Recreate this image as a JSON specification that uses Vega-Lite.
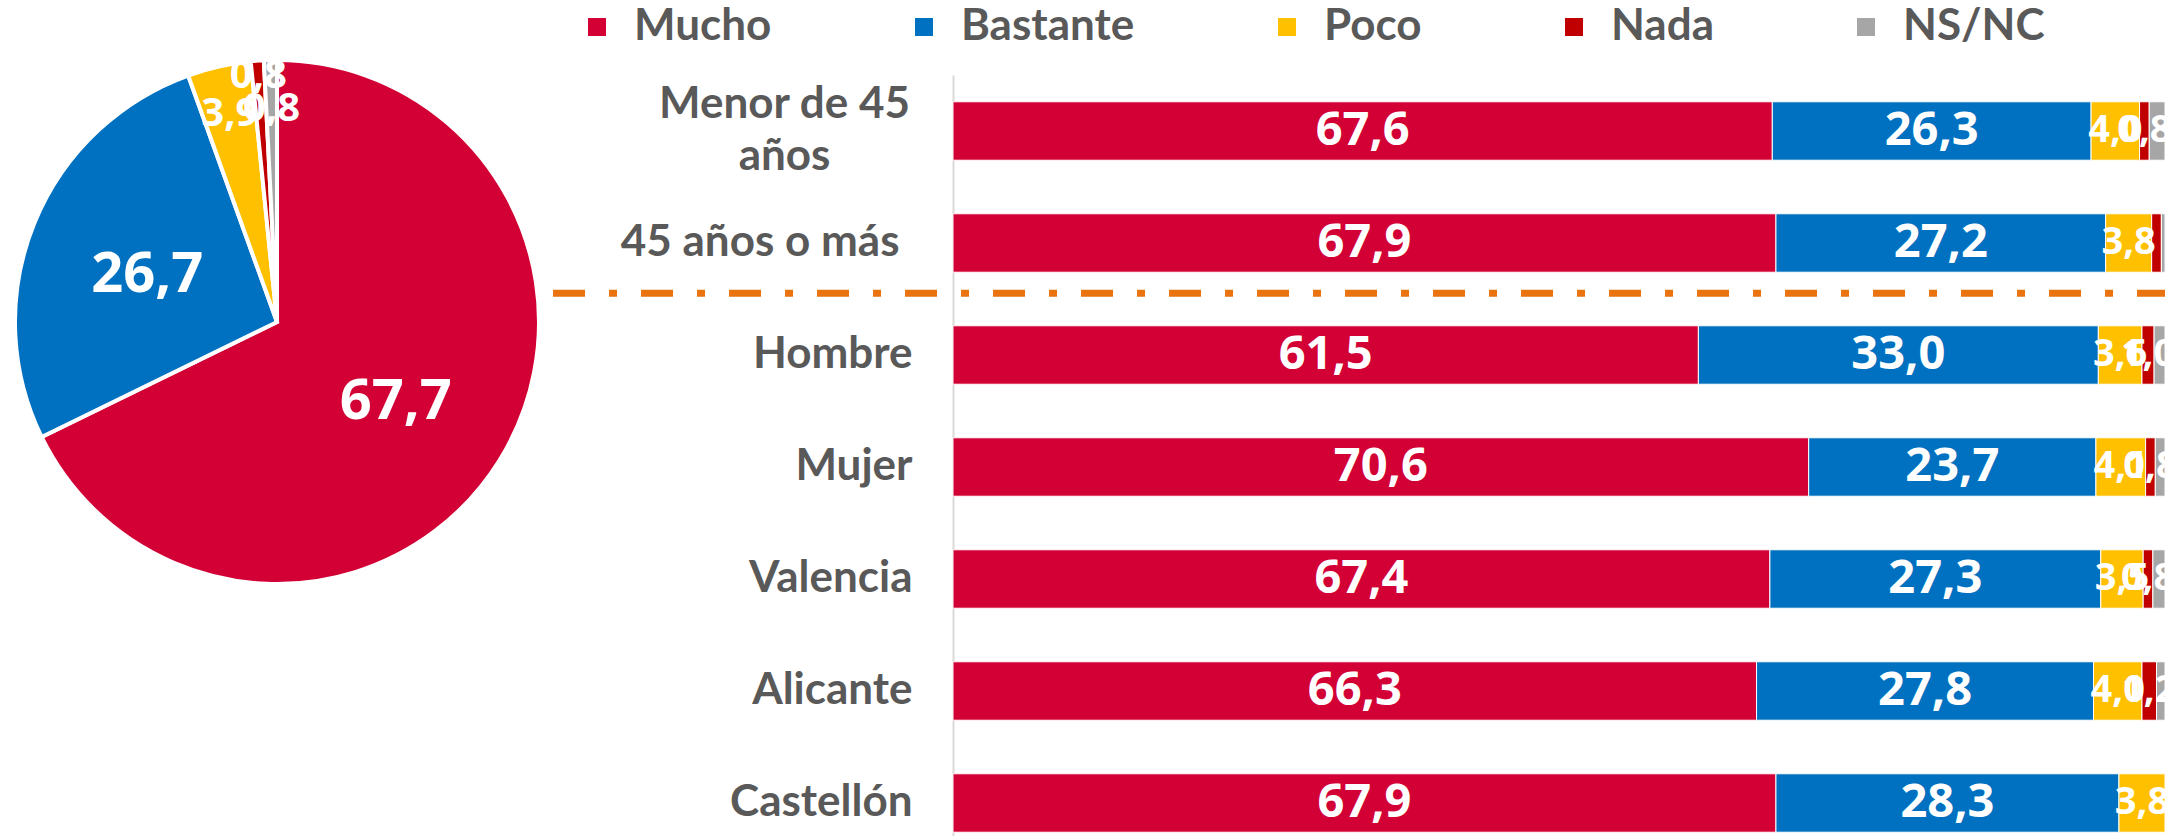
{
  "$schema": "https://vega.github.io/schema/vega-lite/v6.json",
  "padding": {"left": 5, "top": 5, "right": 16, "bottom": 5},
  "background": "white",
  "bounds": "flush",
  "spacing": 404,
  "config": {
    "view": {"stroke": null},
    "locale": {"number": {"decimal": ",", "thousands": ".", "grouping": [3], "currency": ["", " €"]}}
  },
  "resolve": {"scale": {"color": "independent"}, "legend": {"color": "independent"}},
  "hconcat": [
    {
      "width": 544,
      "height": 494,
      "data": {"values": [
        {"resp": "Mucho", "k": 1, "v": 67.7},
        {"resp": "Bastante", "k": 2, "v": 26.7},
        {"resp": "Poco", "k": 3, "v": 3.9},
        {"resp": "Nada", "k": 4, "v": 0.8},
        {"resp": "NS/NC", "k": 5, "v": 0.8}
      ]},
      "encoding": {
        "theta": {"field": "v", "type": "quantitative", "stack": true},
        "order": {"field": "k", "type": "quantitative"}
      },
      "layer": [
        {
          "mark": {"type": "arc", "radius": 262, "stroke": "white", "strokeWidth": 4},
          "encoding": {
            "color": {"field": "resp", "type": "nominal",
              "scale": {"domain": ["Mucho", "Bastante", "Poco", "Nada", "NS/NC"], "range": ["#D20034", "#0070C0", "#FFC000", "#C00000", "#A6A6A6"]},
              "legend": null}
          }
        },
        {
          "mark": {"type": "text", "radius": 140, "dy": 6, "font": "Open Sans", "fontWeight": "bold", "fontSize": 56, "fill": "white"},
          "encoding": {
            "detail": {"field": "resp"},
            "text": {"field": "v", "type": "quantitative", "format": ".1f"},
            "opacity": {"condition": {"test": "datum.v >= 5", "value": 1}, "value": 0}
          }
        },
        {
          "mark": {"type": "text", "radius": 213, "font": "Open Sans", "fontWeight": "bold", "fontSize": 40, "fill": "white"},
          "encoding": {
            "detail": {"field": "resp"},
            "text": {"field": "v", "type": "quantitative", "format": ".1f"},
            "opacity": {"condition": {"test": "datum.resp === 'Poco' || datum.resp === 'NS/NC'", "value": 1}, "value": 0}
          }
        },
        {
          "mark": {"type": "text", "radius": 247, "font": "Open Sans", "fontWeight": "bold", "fontSize": 40, "fill": "white"},
          "encoding": {
            "detail": {"field": "resp"},
            "text": {"field": "v", "type": "quantitative", "format": ".1f"},
            "opacity": {"condition": {"test": "datum.resp === 'Nada'", "value": 1}, "value": 0}
          }
        }
      ]
    },
    {
      "width": 1212,
      "height": 784,
      "data": {"values": [
        {"cat": "Menor de 45 años", "resp": "Mucho", "k": 1, "v": 67.6},
        {"cat": "Menor de 45 años", "resp": "Bastante", "k": 2, "v": 26.3},
        {"cat": "Menor de 45 años", "resp": "Poco", "k": 3, "v": 4.0},
        {"cat": "Menor de 45 años", "resp": "Nada", "k": 4, "v": 0.8},
        {"cat": "Menor de 45 años", "resp": "NS/NC", "k": 5, "v": 1.3},
        {"cat": "45 años o más", "resp": "Mucho", "k": 1, "v": 67.9},
        {"cat": "45 años o más", "resp": "Bastante", "k": 2, "v": 27.2},
        {"cat": "45 años o más", "resp": "Poco", "k": 3, "v": 3.8},
        {"cat": "45 años o más", "resp": "Nada", "k": 4, "v": 0.8},
        {"cat": "45 años o más", "resp": "NS/NC", "k": 5, "v": 0.3},
        {"cat": "Hombre", "resp": "Mucho", "k": 1, "v": 61.5},
        {"cat": "Hombre", "resp": "Bastante", "k": 2, "v": 33.0},
        {"cat": "Hombre", "resp": "Poco", "k": 3, "v": 3.6},
        {"cat": "Hombre", "resp": "Nada", "k": 4, "v": 1.0},
        {"cat": "Hombre", "resp": "NS/NC", "k": 5, "v": 0.9},
        {"cat": "Mujer", "resp": "Mucho", "k": 1, "v": 70.6},
        {"cat": "Mujer", "resp": "Bastante", "k": 2, "v": 23.7},
        {"cat": "Mujer", "resp": "Poco", "k": 3, "v": 4.1},
        {"cat": "Mujer", "resp": "Nada", "k": 4, "v": 0.8},
        {"cat": "Mujer", "resp": "NS/NC", "k": 5, "v": 0.8},
        {"cat": "Valencia", "resp": "Mucho", "k": 1, "v": 67.4},
        {"cat": "Valencia", "resp": "Bastante", "k": 2, "v": 27.3},
        {"cat": "Valencia", "resp": "Poco", "k": 3, "v": 3.5},
        {"cat": "Valencia", "resp": "Nada", "k": 4, "v": 0.8},
        {"cat": "Valencia", "resp": "NS/NC", "k": 5, "v": 1.0},
        {"cat": "Alicante", "resp": "Mucho", "k": 1, "v": 66.3},
        {"cat": "Alicante", "resp": "Bastante", "k": 2, "v": 27.8},
        {"cat": "Alicante", "resp": "Poco", "k": 3, "v": 4.0},
        {"cat": "Alicante", "resp": "Nada", "k": 4, "v": 1.2},
        {"cat": "Alicante", "resp": "NS/NC", "k": 5, "v": 0.7},
        {"cat": "Castellón", "resp": "Mucho", "k": 1, "v": 67.9},
        {"cat": "Castellón", "resp": "Bastante", "k": 2, "v": 28.3},
        {"cat": "Castellón", "resp": "Poco", "k": 3, "v": 3.8}
      ]},
      "encoding": {
        "y": {
          "field": "cat", "type": "nominal",
          "scale": {"domain": ["Menor de 45 años", "45 años o más", "Hombre", "Mujer", "Valencia", "Alicante", "Castellón"], "paddingInner": 0.478, "paddingOuter": 0.239},
          "axis": {
            "title": null, "ticks": false, "tickSize": 0, "grid": false,
            "labelFont": "Lato", "labelFontWeight": "bold", "labelFontSize": 44,
            "labelColor": "#595959", "labelLimit": 500, "labelLineHeight": 52,
            "labelAlign": {"condition": {"test": "datum.label === 'Menor de 45 años'", "value": "center"}, "value": "right"},
            "labelPadding": {"condition": [{"test": "datum.label === 'Menor de 45 años'", "value": 169}, {"test": "datum.label === '45 años o más'", "value": 54}], "value": 41},
            "labelOffset": {"condition": {"test": "datum.label === 'Menor de 45 años'", "value": -26}, "value": 0},
            "domainColor": "#D9D9D9", "domainWidth": 2,
            "labelExpr": "datum.label === 'Menor de 45 años' ? ['Menor de 45', 'años'] : datum.label"
          }
        }
      },
      "layer": [
        {
          "mark": {"type": "bar", "stroke": "white", "strokeWidth": 1},
          "encoding": {
            "x": {"field": "v", "type": "quantitative", "stack": "zero", "scale": {"domain": [0, 100]}, "axis": null},
            "color": {"field": "resp", "type": "nominal",
              "scale": {"domain": ["Mucho", "Bastante", "Poco", "Nada", "NS/NC"], "range": ["#D20034", "#0070C0", "#FFC000", "#C00000", "#A6A6A6"]},
              "legend": {
                "orient": "none", "legendX": -378, "legendY": -70, "direction": "horizontal", "title": null,
                "symbolType": "square", "symbolSize": 324, "symbolStrokeWidth": 0,
                "labelFont": "Lato", "labelFontWeight": "bold", "labelFontSize": 44, "labelColor": "#595959",
                "labelLimit": 400, "labelOffset": 15, "columnPadding": 130, "padding": 0
              }},
            "order": {"field": "k", "type": "quantitative"}
          }
        },
        {
          "mark": {"type": "text", "font": "Open Sans", "fontWeight": "bold", "fill": "white"},
          "encoding": {
            "x": {"field": "v", "type": "quantitative", "stack": "zero", "bandPosition": 0.5},
            "detail": {"field": "resp"},
            "order": {"field": "k", "type": "quantitative"},
            "text": {"field": "v", "type": "quantitative", "format": ".1f"},
            "size": {"condition": {"test": "datum.v >= 10", "value": 47}, "value": 38},
            "opacity": {"condition": {"test": "datum.resp === 'NS/NC' || (datum.resp === 'Nada' && datum.cat === '45 años o más')", "value": 0}, "value": 1}
          }
        },
        {
          "data": {"values": [{}]},
          "mark": {"type": "rule", "color": "#E8730F", "strokeWidth": 7, "strokeDash": [32, 24, 8, 24]},
          "encoding": {
            "x": {"datum": -33, "type": "quantitative"},
            "x2": {"datum": 100},
            "y": {"datum": "45 años o más", "type": "nominal", "bandPosition": 1.36}
          }
        }
      ]
    }
  ]
}
